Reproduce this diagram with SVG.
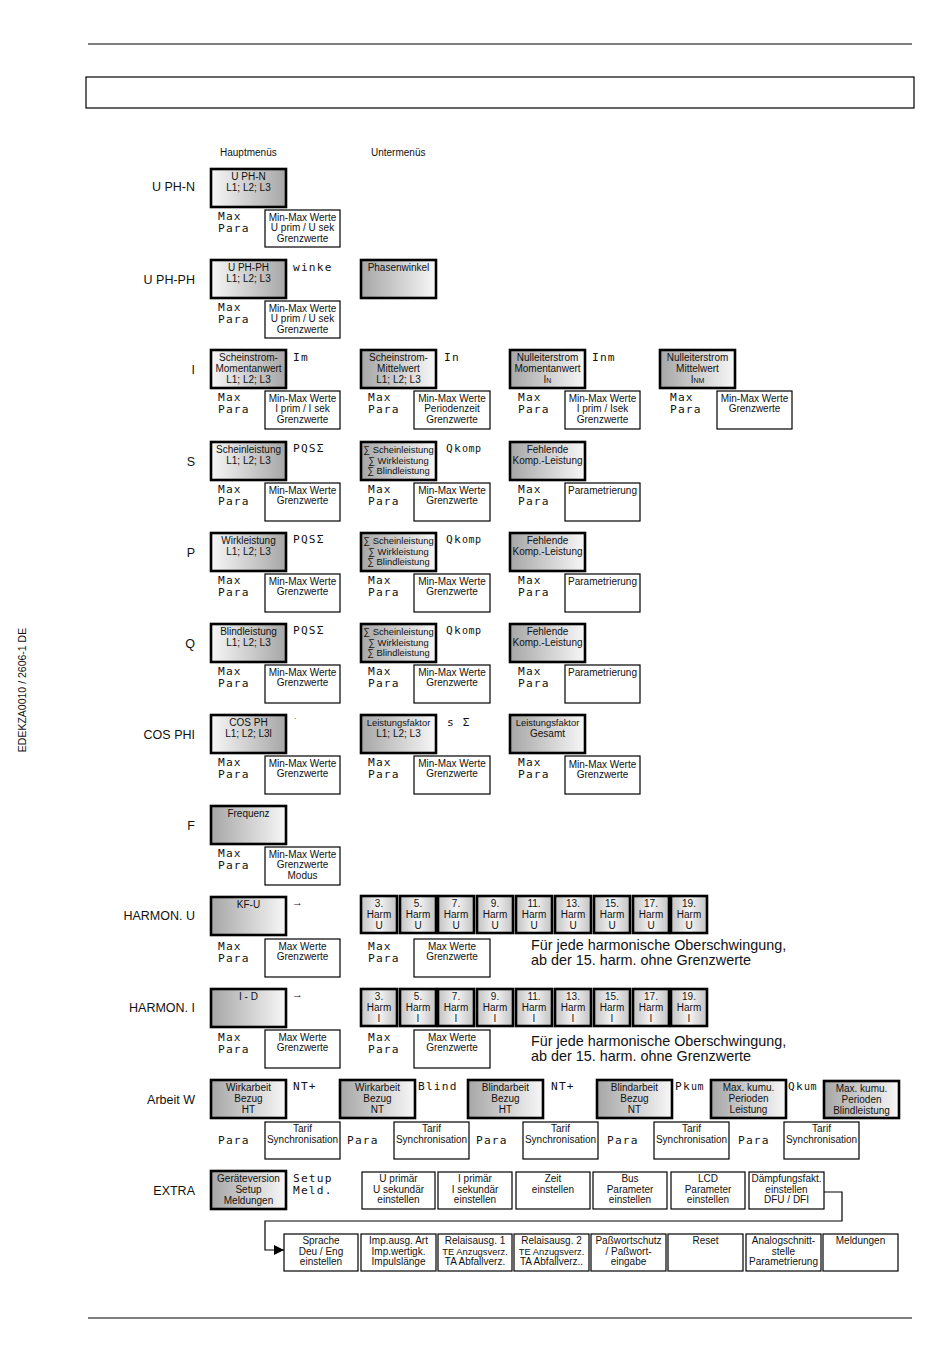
<svg xmlns="http://www.w3.org/2000/svg" width="950" height="1370" viewBox="0 0 950 1370">
<defs>
<linearGradient id="gR" x1="0" x2="1" y1="0" y2="0"><stop offset="0" stop-color="#f7f7f7"/><stop offset="1" stop-color="#a6a6a6"/></linearGradient>
<linearGradient id="gL" x1="0" x2="1" y1="0" y2="0"><stop offset="0" stop-color="#a6a6a6"/><stop offset="1" stop-color="#f7f7f7"/></linearGradient>
<linearGradient id="gH" x1="0" x2="1" y1="0" y2="0"><stop offset="0" stop-color="#c2c2c2"/><stop offset="0.5" stop-color="#f5f5f5"/><stop offset="1" stop-color="#c2c2c2"/></linearGradient>
<marker id="arr" viewBox="0 0 10 10" refX="10" refY="5" markerWidth="10" markerHeight="10" markerUnits="userSpaceOnUse" orient="auto"><path d="M0,0 L10,5 L0,10 Z" fill="#000"/></marker>
</defs>
<style>
text{font-family:"Liberation Sans",Arial,sans-serif;fill:#111}
.mb{stroke:#000;stroke-width:2.6}
.r{fill:url(#gR)}
.l{fill:url(#gL)}
.h{fill:url(#gH)}
.sb{fill:#fff;stroke:#000;stroke-width:1.2}
.t{font-size:10px;text-anchor:middle}
.z{font-size:9.4px}
.s{font-size:10px;text-anchor:middle}
.m{font-family:"DejaVu Sans Mono",monospace;font-size:11.2px;letter-spacing:1.2px}
.lab{font-size:12.5px;text-anchor:end}
.hd{font-size:10px}
.big{font-size:14.4px}
.ln{stroke:#000;stroke-width:1.2;fill:none}
</style>
<rect width="950" height="1370" fill="#fff"/>
<g id="frame">
<line class="ln" x1="88" y1="44" x2="912" y2="44"/>
<line class="ln" x1="88" y1="1318" x2="912" y2="1318"/>
<rect class="sb" x="86" y="77" width="828" height="31"/>
<text x="26" y="690" font-size="10.5" text-anchor="middle" transform="rotate(-90 26 690)">EDEKZA0010 / 2606-1 DE</text>
<text class="hd" x="220" y="156">Hauptmenüs</text>
<text class="hd" x="371" y="156">Untermenüs</text>
</g>

<!-- Row U PH-N -->
<g id="uphn">
<text class="lab" x="195" y="191">U PH-N</text>
<rect class="mb r" x="211" y="169" width="75" height="38"/>
<text class="t" x="248.5" y="180">U PH-N</text><text class="t" x="248.5" y="191">L1; L2; L3</text>
<text class="m" x="218" y="220">Max</text><text class="m" x="218" y="232">Para</text>
<rect class="sb" x="265" y="210" width="75" height="37"/>
<text class="t" x="302.5" y="220.5">Min-Max Werte</text><text class="t" x="302.5" y="231">U prim / U sek</text><text class="t" x="302.5" y="241.5">Grenzwerte</text>
</g>

<!-- Row U PH-PH -->
<g id="uphph">
<text class="lab" x="195" y="284">U PH-PH</text>
<rect class="mb r" x="211" y="260" width="75" height="38"/>
<text class="t" x="248.5" y="271">U PH-PH</text><text class="t" x="248.5" y="282">L1; L2; L3</text>
<text class="m" x="293" y="271">winke</text>
<text class="m" x="218" y="311">Max</text><text class="m" x="218" y="323">Para</text>
<rect class="sb" x="265" y="301" width="75" height="37"/>
<text class="t" x="302.5" y="311.5">Min-Max Werte</text><text class="t" x="302.5" y="322">U prim / U sek</text><text class="t" x="302.5" y="332.5">Grenzwerte</text>
</g>
<g id="phasenwinkel">
<rect class="mb l" x="361" y="260" width="75" height="38"/>
<text class="t" x="398.5" y="271">Phasenwinkel</text>
</g>

<!-- Row I -->
<g id="i-row">
<text class="lab" x="195" y="374">I</text>
<rect class="mb r" x="211" y="350" width="75" height="38"/>
<text class="t" x="248.5" y="361">Scheinstrom-</text><text class="t" x="248.5" y="372">Momentanwert</text><text class="t" x="248.5" y="382.5">L1; L2; L3</text>
<text class="m" x="293" y="361">Im</text>
<text class="m" x="218" y="401">Max</text><text class="m" x="218" y="413">Para</text>
<rect class="sb" x="265" y="391" width="75" height="38"/>
<text class="t" x="302.5" y="401.5">Min-Max Werte</text><text class="t" x="302.5" y="412">I prim / I sek</text><text class="t" x="302.5" y="422.5">Grenzwerte</text>
</g>
<g id="i-mittel">
<rect class="mb l" x="361" y="350" width="75" height="38"/>
<text class="t" x="398.5" y="361">Scheinstrom-</text><text class="t" x="398.5" y="372">Mittelwert</text><text class="t" x="398.5" y="382.5">L1; L2; L3</text>
<text class="m" x="444" y="361">In</text>
<text class="m" x="368" y="401">Max</text><text class="m" x="368" y="413">Para</text>
<rect class="sb" x="414" y="391" width="76" height="38"/>
<text class="t" x="452" y="401.5">Min-Max Werte</text><text class="t" x="452" y="412">Periodenzeit</text><text class="t" x="452" y="422.5">Grenzwerte</text>
</g>
<g id="in-moment">
<rect class="mb l" x="510" y="350" width="75" height="38"/>
<text class="t" x="547.5" y="361">Nulleiterstrom</text><text class="t" x="547.5" y="372">Momentanwert</text><text class="t" x="547.5" y="382.5">I<tspan font-size="7">N</tspan></text>
<text class="m" x="592" y="361">Inm</text>
<text class="m" x="518" y="401">Max</text><text class="m" x="518" y="413">Para</text>
<rect class="sb" x="565" y="391" width="75" height="38"/>
<text class="t" x="602.5" y="401.5">Min-Max Werte</text><text class="t" x="602.5" y="412">I prim / Isek</text><text class="t" x="602.5" y="422.5">Grenzwerte</text>
</g>
<g id="in-mittel">
<rect class="mb l" x="660" y="350" width="75" height="38"/>
<text class="t" x="697.5" y="361">Nulleiterstrom</text><text class="t" x="697.5" y="372">Mittelwert</text><text class="t" x="697.5" y="382.5">I<tspan font-size="7">NM</tspan></text>
<text class="m" x="670" y="401">Max</text><text class="m" x="670" y="413">Para</text>
<rect class="sb" x="717" y="391" width="75" height="38"/>
<text class="t" x="754.5" y="401.5">Min-Max Werte</text><text class="t" x="754.5" y="412">Grenzwerte</text>
</g>

<!-- Row S -->
<g id="s-row">
<text class="lab" x="195" y="466">S</text>
<rect class="mb r" x="211" y="442" width="75" height="38"/>
<text class="t" x="248.5" y="453">Scheinleistung</text><text class="t" x="248.5" y="464">L1; L2; L3</text>
<text class="m" x="293" y="452">PQSΣ</text>
<text class="m" x="218" y="493">Max</text><text class="m" x="218" y="505">Para</text>
<rect class="sb" x="265" y="483" width="75" height="38"/>
<text class="t" x="302.5" y="493.5">Min-Max Werte</text><text class="t" x="302.5" y="504">Grenzwerte</text>
</g>
<g id="s-sum">
<rect class="mb l" x="361" y="442" width="75" height="38"/>
<text class="t z" x="398.5" y="453">∑ Scheinleistung</text><text class="t z" x="398.5" y="463.5">∑ Wirkleistung</text><text class="t z" x="398.5" y="474">∑ Blindleistung</text>
<text class="m" x="446" y="452">Qk<tspan font-size="10" letter-spacing="0.6">omp</tspan></text>
<text class="m" x="368" y="493">Max</text><text class="m" x="368" y="505">Para</text>
<rect class="sb" x="414" y="483" width="76" height="38"/>
<text class="t" x="452" y="493.5">Min-Max Werte</text><text class="t" x="452" y="504">Grenzwerte</text>
</g>
<g id="s-komp">
<rect class="mb l" x="510" y="442" width="75" height="38"/>
<text class="t" x="547.5" y="453">Fehlende</text><text class="t" x="547.5" y="464">Komp.-Leistung</text>
<text class="m" x="518" y="493">Max</text><text class="m" x="518" y="505">Para</text>
<rect class="sb" x="565" y="483" width="75" height="38"/>
<text class="t" x="602.5" y="494">Parametrierung</text>
</g>

<!-- Row P -->
<g id="p-row">
<text class="lab" x="195" y="557">P</text>
<rect class="mb r" x="211" y="533" width="75" height="38"/>
<text class="t" x="248.5" y="544">Wirkleistung</text><text class="t" x="248.5" y="555">L1; L2; L3</text>
<text class="m" x="293" y="543">PQSΣ</text>
<text class="m" x="218" y="584">Max</text><text class="m" x="218" y="596">Para</text>
<rect class="sb" x="265" y="574" width="75" height="38"/>
<text class="t" x="302.5" y="584.5">Min-Max Werte</text><text class="t" x="302.5" y="595">Grenzwerte</text>
</g>
<g id="p-sum">
<rect class="mb l" x="361" y="533" width="75" height="38"/>
<text class="t z" x="398.5" y="544">∑ Scheinleistung</text><text class="t z" x="398.5" y="554.5">∑ Wirkleistung</text><text class="t z" x="398.5" y="565">∑ Blindleistung</text>
<text class="m" x="446" y="543">Qk<tspan font-size="10" letter-spacing="0.6">omp</tspan></text>
<text class="m" x="368" y="584">Max</text><text class="m" x="368" y="596">Para</text>
<rect class="sb" x="414" y="574" width="76" height="38"/>
<text class="t" x="452" y="584.5">Min-Max Werte</text><text class="t" x="452" y="595">Grenzwerte</text>
</g>
<g id="p-komp">
<rect class="mb l" x="510" y="533" width="75" height="38"/>
<text class="t" x="547.5" y="544">Fehlende</text><text class="t" x="547.5" y="555">Komp.-Leistung</text>
<text class="m" x="518" y="584">Max</text><text class="m" x="518" y="596">Para</text>
<rect class="sb" x="565" y="574" width="75" height="38"/>
<text class="t" x="602.5" y="585">Parametrierung</text>
</g>

<!-- Row Q -->
<g id="q-row">
<text class="lab" x="195" y="648">Q</text>
<rect class="mb r" x="211" y="624" width="75" height="38"/>
<text class="t" x="248.5" y="635">Blindleistung</text><text class="t" x="248.5" y="646">L1; L2; L3</text>
<text class="m" x="293" y="634">PQSΣ</text>
<text class="m" x="218" y="675">Max</text><text class="m" x="218" y="687">Para</text>
<rect class="sb" x="265" y="665" width="75" height="38"/>
<text class="t" x="302.5" y="675.5">Min-Max Werte</text><text class="t" x="302.5" y="686">Grenzwerte</text>
</g>
<g id="q-sum">
<rect class="mb l" x="361" y="624" width="75" height="38"/>
<text class="t z" x="398.5" y="635">∑ Scheinleistung</text><text class="t z" x="398.5" y="645.5">∑ Wirkleistung</text><text class="t z" x="398.5" y="656">∑ Blindleistung</text>
<text class="m" x="446" y="634">Qk<tspan font-size="10" letter-spacing="0.6">omp</tspan></text>
<text class="m" x="368" y="675">Max</text><text class="m" x="368" y="687">Para</text>
<rect class="sb" x="414" y="665" width="76" height="38"/>
<text class="t" x="452" y="675.5">Min-Max Werte</text><text class="t" x="452" y="686">Grenzwerte</text>
</g>
<g id="q-komp">
<rect class="mb l" x="510" y="624" width="75" height="38"/>
<text class="t" x="547.5" y="635">Fehlende</text><text class="t" x="547.5" y="646">Komp.-Leistung</text>
<text class="m" x="518" y="675">Max</text><text class="m" x="518" y="687">Para</text>
<rect class="sb" x="565" y="665" width="75" height="38"/>
<text class="t" x="602.5" y="676">Parametrierung</text>
</g>

<!-- Row COS PHI -->
<g id="cos-row">
<text class="lab" x="195" y="739">COS PHI</text>
<rect class="mb r" x="211" y="715" width="75" height="38"/>
<text class="t" x="248.5" y="726">COS PH</text><text class="t" x="248.5" y="737">L1; L2; L3l</text>
<text x="294" y="719" font-size="8">.</text>
<text class="m" x="218" y="766">Max</text><text class="m" x="218" y="778">Para</text>
<rect class="sb" x="265" y="756" width="75" height="38"/>
<text class="t" x="302.5" y="766.5">Min-Max Werte</text><text class="t" x="302.5" y="777">Grenzwerte</text>
</g>
<g id="cos-lf">
<rect class="mb l" x="361" y="715" width="75" height="38"/>
<text class="t z" x="398.5" y="726">Leistungsfaktor</text><text class="t" x="398.5" y="737">L1; L2; L3</text>
<text class="m" x="447" y="726" letter-spacing="0">s Σ</text>
<text class="m" x="368" y="766">Max</text><text class="m" x="368" y="778">Para</text>
<rect class="sb" x="414" y="756" width="76" height="38"/>
<text class="t" x="452" y="766.5">Min-Max Werte</text><text class="t" x="452" y="777">Grenzwerte</text>
</g>
<g id="cos-ges">
<rect class="mb l" x="510" y="715" width="75" height="38"/>
<text class="t z" x="547.5" y="726">Leistungsfaktor</text><text class="t" x="547.5" y="737">Gesamt</text>
<text class="m" x="518" y="766">Max</text><text class="m" x="518" y="778">Para</text>
<rect class="sb" x="565" y="756" width="75" height="38"/>
<text class="t" x="602.5" y="767.5">Min-Max Werte</text><text class="t" x="602.5" y="778">Grenzwerte</text>
</g>

<!-- Row F -->
<g id="f-row">
<text class="lab" x="195" y="830">F</text>
<rect class="mb l" x="211" y="806" width="75" height="38"/>
<text class="t" x="248.5" y="817">Frequenz</text>
<text class="m" x="218" y="857">Max</text><text class="m" x="218" y="869">Para</text>
<rect class="sb" x="265" y="847" width="75" height="38"/>
<text class="t" x="302.5" y="857.5">Min-Max Werte</text><text class="t" x="302.5" y="868">Grenzwerte</text><text class="t" x="302.5" y="878.5">Modus</text>
</g>

<!-- Row HARMON U -->
<g id="harmu-row">
<text class="lab" x="195" y="920">HARMON. U</text>
<rect class="mb l" x="211" y="897" width="75" height="38"/>
<text class="t" x="248.5" y="908">KF-U</text>
<text x="292" y="906" font-size="11">→</text>
<text class="m" x="218" y="950">Max</text><text class="m" x="218" y="962">Para</text>
<rect class="sb" x="265" y="939" width="75" height="38"/>
<text class="s" x="302.5" y="949.5">Max Werte</text><text class="s" x="302.5" y="960">Grenzwerte</text>
</g>
<g id="harmu-list">
<rect class="mb h" x="361" y="896" width="36" height="37"/><text class="s" x="379" y="907">3.</text><text class="s" x="379" y="918">Harm</text><text class="s" x="379" y="929">U</text>
<rect class="mb h" x="400" y="896" width="36" height="37"/><text class="s" x="418" y="907">5.</text><text class="s" x="418" y="918">Harm</text><text class="s" x="418" y="929">U</text>
<rect class="mb h" x="438" y="896" width="36" height="37"/><text class="s" x="456" y="907">7.</text><text class="s" x="456" y="918">Harm</text><text class="s" x="456" y="929">U</text>
<rect class="mb h" x="477" y="896" width="36" height="37"/><text class="s" x="495" y="907">9.</text><text class="s" x="495" y="918">Harm</text><text class="s" x="495" y="929">U</text>
<rect class="mb h" x="516" y="896" width="36" height="37"/><text class="s" x="534" y="907">11.</text><text class="s" x="534" y="918">Harm</text><text class="s" x="534" y="929">U</text>
<rect class="mb h" x="555" y="896" width="36" height="37"/><text class="s" x="573" y="907">13.</text><text class="s" x="573" y="918">Harm</text><text class="s" x="573" y="929">U</text>
<rect class="mb h" x="594" y="896" width="36" height="37"/><text class="s" x="612" y="907">15.</text><text class="s" x="612" y="918">Harm</text><text class="s" x="612" y="929">U</text>
<rect class="mb h" x="633" y="896" width="36" height="37"/><text class="s" x="651" y="907">17.</text><text class="s" x="651" y="918">Harm</text><text class="s" x="651" y="929">U</text>
<rect class="mb h" x="671" y="896" width="36" height="37"/><text class="s" x="689" y="907">19.</text><text class="s" x="689" y="918">Harm</text><text class="s" x="689" y="929">U</text>
<text class="m" x="368" y="950">Max</text><text class="m" x="368" y="962">Para</text>
<rect class="sb" x="414" y="939" width="76" height="38"/>
<text class="s" x="452" y="949.5">Max Werte</text><text class="s" x="452" y="960">Grenzwerte</text>
<text class="big" x="531" y="950">Für jede harmonische Oberschwingung,</text>
<text class="big" x="531" y="965">ab der 15. harm. ohne Grenzwerte</text>
</g>

<!-- Row HARMON I -->
<g id="harmi-row">
<text class="lab" x="195" y="1012">HARMON. I</text>
<rect class="mb l" x="211" y="989" width="75" height="38"/>
<text class="t" x="248.5" y="1000">I - D</text>
<text x="292" y="998" font-size="11">→</text>
<text class="m" x="218" y="1041">Max</text><text class="m" x="218" y="1053">Para</text>
<rect class="sb" x="265" y="1030" width="75" height="38"/>
<text class="s" x="302.5" y="1040.5">Max  Werte</text><text class="s" x="302.5" y="1051">Grenzwerte</text>
</g>
<g id="harmi-list">
<rect class="mb h" x="361" y="989" width="36" height="37"/><text class="s" x="379" y="1000">3.</text><text class="s" x="379" y="1011">Harm</text><text class="s" x="379" y="1022">I</text>
<rect class="mb h" x="400" y="989" width="36" height="37"/><text class="s" x="418" y="1000">5.</text><text class="s" x="418" y="1011">Harm</text><text class="s" x="418" y="1022">I</text>
<rect class="mb h" x="438" y="989" width="36" height="37"/><text class="s" x="456" y="1000">7.</text><text class="s" x="456" y="1011">Harm</text><text class="s" x="456" y="1022">I</text>
<rect class="mb h" x="477" y="989" width="36" height="37"/><text class="s" x="495" y="1000">9.</text><text class="s" x="495" y="1011">Harm</text><text class="s" x="495" y="1022">I</text>
<rect class="mb h" x="516" y="989" width="36" height="37"/><text class="s" x="534" y="1000">11.</text><text class="s" x="534" y="1011">Harm</text><text class="s" x="534" y="1022">I</text>
<rect class="mb h" x="555" y="989" width="36" height="37"/><text class="s" x="573" y="1000">13.</text><text class="s" x="573" y="1011">Harm</text><text class="s" x="573" y="1022">I</text>
<rect class="mb h" x="594" y="989" width="36" height="37"/><text class="s" x="612" y="1000">15.</text><text class="s" x="612" y="1011">Harm</text><text class="s" x="612" y="1022">I</text>
<rect class="mb h" x="633" y="989" width="36" height="37"/><text class="s" x="651" y="1000">17.</text><text class="s" x="651" y="1011">Harm</text><text class="s" x="651" y="1022">I</text>
<rect class="mb h" x="671" y="989" width="36" height="37"/><text class="s" x="689" y="1000">19.</text><text class="s" x="689" y="1011">Harm</text><text class="s" x="689" y="1022">I</text>
<text class="m" x="368" y="1041">Max</text><text class="m" x="368" y="1053">Para</text>
<rect class="sb" x="414" y="1030" width="76" height="38"/>
<text class="s" x="452" y="1040.5">Max Werte</text><text class="s" x="452" y="1051">Grenzwerte</text>
<text class="big" x="531" y="1046">Für jede harmonische Oberschwingung,</text>
<text class="big" x="531" y="1061">ab der 15. harm. ohne Grenzwerte</text>
</g>

<!-- Row Arbeit W -->
<g id="arbeit-label"><text class="lab" x="195" y="1104">Arbeit W</text></g>
<g id="arbeit-1">
<rect class="mb l" x="211" y="1080" width="75" height="38"/>
<text class="t" x="248.5" y="1091">Wirkarbeit</text><text class="t" x="248.5" y="1102">Bezug</text><text class="t" x="248.5" y="1112.5">HT</text>
<text class="m" x="293" y="1090">NT+</text>
<text class="m" x="218" y="1144">Para</text>
<rect class="sb" x="265" y="1122" width="75" height="37"/>
<text class="t" x="302.5" y="1132">Tarif</text><text class="t" x="302.5" y="1142.5">Synchronisation</text>
</g>
<g id="arbeit-2">
<rect class="mb l" x="340" y="1080" width="75" height="38"/>
<text class="t" x="377.5" y="1091">Wirkarbeit</text><text class="t" x="377.5" y="1102">Bezug</text><text class="t" x="377.5" y="1112.5">NT</text>
<text class="m" x="418" y="1090">Blind</text>
<text class="m" x="347" y="1144">Para</text>
<rect class="sb" x="394" y="1122" width="75" height="37"/>
<text class="t" x="431.5" y="1132">Tarif</text><text class="t" x="431.5" y="1142.5">Synchronisation</text>
</g>
<g id="arbeit-3">
<rect class="mb l" x="468" y="1080" width="75" height="38"/>
<text class="t" x="505.5" y="1091">Blindarbeit</text><text class="t" x="505.5" y="1102">Bezug</text><text class="t" x="505.5" y="1112.5">HT</text>
<text class="m" x="551" y="1090">NT+</text>
<text class="m" x="476" y="1144">Para</text>
<rect class="sb" x="523" y="1122" width="75" height="37"/>
<text class="t" x="560.5" y="1132">Tarif</text><text class="t" x="560.5" y="1142.5">Synchronisation</text>
</g>
<g id="arbeit-4">
<rect class="mb l" x="597" y="1080" width="75" height="38"/>
<text class="t" x="634.5" y="1091">Blindarbeit</text><text class="t" x="634.5" y="1102">Bezug</text><text class="t" x="634.5" y="1112.5">NT</text>
<text class="m" x="675" y="1090">Pk<tspan font-size="10" letter-spacing="0.6">um</tspan></text>
<text class="m" x="607" y="1144">Para</text>
<rect class="sb" x="654" y="1122" width="75" height="37"/>
<text class="t" x="691.5" y="1132">Tarif</text><text class="t" x="691.5" y="1142.5">Synchronisation</text>
</g>
<g id="arbeit-5">
<rect class="mb l" x="711" y="1080" width="75" height="38"/>
<text class="t" x="748.5" y="1091">Max. kumu.</text><text class="t" x="748.5" y="1102">Perioden</text><text class="t" x="748.5" y="1112.5">Leistung</text>
<text class="m" x="788" y="1090">Qk<tspan font-size="10" letter-spacing="0.6">um</tspan></text>
<text class="m" x="738" y="1144">Para</text>
<rect class="sb" x="784" y="1122" width="75" height="37"/>
<text class="t" x="821.5" y="1132">Tarif</text><text class="t" x="821.5" y="1142.5">Synchronisation</text>
</g>
<g id="arbeit-6">
<rect class="mb l" x="824" y="1081" width="75" height="37"/>
<text class="t" x="861.5" y="1092">Max. kumu.</text><text class="t" x="861.5" y="1103">Perioden</text><text class="t" x="861.5" y="1113.5">Blindleistung</text>
</g>

<!-- Row EXTRA -->
<g id="extra-main">
<text class="lab" x="195" y="1195">EXTRA</text>
<rect class="mb l" x="211" y="1171" width="75" height="38"/>
<text class="t" x="248.5" y="1182">Geräteversion</text><text class="t" x="248.5" y="1193">Setup</text><text class="t" x="248.5" y="1203.5">Meldungen</text>
<text class="m" x="293" y="1182">Setup</text><text class="m" x="293" y="1194">Meld.</text>
</g>
<g id="extra-u"><rect class="sb" x="362" y="1172" width="73" height="37"/><text class="t" x="398.5" y="1182">U primär</text><text class="t" x="398.5" y="1192.5">U sekundär</text><text class="t" x="398.5" y="1203">einstellen</text></g>
<g id="extra-i"><rect class="sb" x="438" y="1172" width="74" height="37"/><text class="t" x="475" y="1182">I primär</text><text class="t" x="475" y="1192.5">I sekundär</text><text class="t" x="475" y="1203">einstellen</text></g>
<g id="extra-zeit"><rect class="sb" x="516" y="1172" width="74" height="37"/><text class="t" x="553" y="1182">Zeit</text><text class="t" x="553" y="1192.5">einstellen</text></g>
<g id="extra-bus"><rect class="sb" x="593" y="1172" width="74" height="37"/><text class="t" x="630" y="1182">Bus</text><text class="t" x="630" y="1192.5">Parameter</text><text class="t" x="630" y="1203">einstellen</text></g>
<g id="extra-lcd"><rect class="sb" x="671" y="1172" width="74" height="37"/><text class="t" x="708" y="1182">LCD</text><text class="t" x="708" y="1192.5">Parameter</text><text class="t" x="708" y="1203">einstellen</text></g>
<g id="extra-daempf"><rect class="sb" x="749" y="1172" width="75" height="37"/><text class="t" x="786.5" y="1182">Dämpfungsfakt.</text><text class="t" x="786.5" y="1192.5">einstellen</text><text class="t" x="786.5" y="1203">DFU / DFI</text></g>
<g id="extra-sprache"><rect class="sb" x="284" y="1234" width="74" height="37"/><text class="t" x="321" y="1244">Sprache</text><text class="t" x="321" y="1254.5">Deu / Eng</text><text class="t" x="321" y="1265">einstellen</text></g>
<g id="extra-imp"><rect class="sb" x="361" y="1234" width="75" height="37" stroke-width="1.6"/><text class="t" x="398.5" y="1244">Imp.ausg. Art</text><text class="t" x="398.5" y="1254.5">Imp.wertigk.</text><text class="t" x="398.5" y="1265">Impulslänge</text></g>
<g id="extra-rel1"><rect class="sb" x="438" y="1234" width="74" height="37"/><text class="t" x="475" y="1244">Relaisausg. 1</text><text class="t z" x="475" y="1254.5">TE Anzugsverz.</text><text class="t" x="475" y="1265">TA Abfallverz.</text></g>
<g id="extra-rel2"><rect class="sb" x="514" y="1234" width="75" height="37"/><text class="t" x="551.5" y="1244">Relaisausg. 2</text><text class="t z" x="551.5" y="1254.5">TE Anzugsverz.</text><text class="t" x="551.5" y="1265">TA Abfallverz..</text></g>
<g id="extra-pass"><rect class="sb" x="591" y="1234" width="75" height="37"/><text class="t" x="628.5" y="1244">Paßwortschutz</text><text class="t" x="628.5" y="1254.5">/ Paßwort-</text><text class="t" x="628.5" y="1265">eingabe</text></g>
<g id="extra-reset"><rect class="sb" x="668" y="1234" width="75" height="37"/><text class="t" x="705.5" y="1244">Reset</text></g>
<g id="extra-analog"><rect class="sb" x="746" y="1234" width="75" height="37"/><text class="t" x="783.5" y="1244">Analogschnitt-</text><text class="t" x="783.5" y="1254.5">stelle</text><text class="t" x="783.5" y="1265">Parametrierung</text></g>
<g id="extra-meld"><rect class="sb" x="823" y="1234" width="75" height="37"/><text class="t" x="860.5" y="1244">Meldungen</text></g>

<g id="connectors">
<path class="ln" d="M824,1192 H842 V1221 H265 V1250 H284" marker-end="url(#arr)"/>
</g>
</svg>
